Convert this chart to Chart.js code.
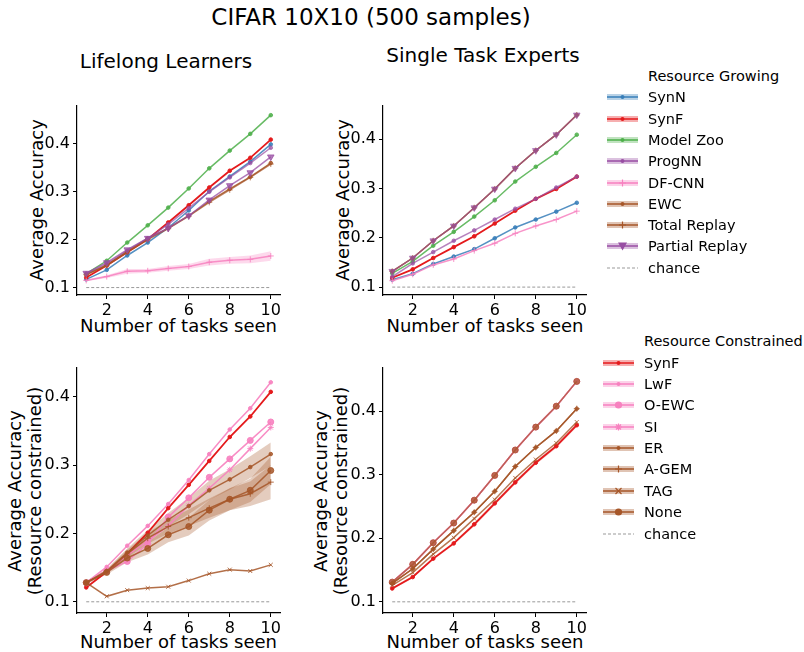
<!DOCTYPE html>
<html><head><meta charset="utf-8">
<script src="https://cdn.jsdelivr.net/npm/chart.js@4.4.0/dist/chart.umd.min.js"></script>
<style>
html,body{margin:0;padding:0;background:#fff}
body{width:804px;height:652px;position:relative;overflow:hidden;font-family:"DejaVu Sans",sans-serif;color:#000}
.t{position:absolute;white-space:nowrap;line-height:1.15}
.c{transform:translate(-50%,-50%)}
.r{transform:translate(-50%,-50%) rotate(-90deg);text-align:center}
canvas{position:absolute}
.leg{position:absolute;font-size:14.5px;white-space:nowrap}
.leg .row{position:absolute;left:0;height:20px;display:flex;align-items:center}
.leg svg{display:block;margin-right:10px}
</style></head><body>
<div class="t c" style="left:371px;top:16.5px;font-size:23px">CIFAR 10X10 (500 samples)</div>
<div class="t c" style="left:166px;top:61px;font-size:20px">Lifelong Learners</div>
<div class="t c" style="left:483px;top:54.5px;font-size:20px">Single Task Experts</div>
<div class="t r" style="left:36.5px;top:200px;font-size:18px">Average Accuracy</div>
<div class="t r" style="left:342.5px;top:200px;font-size:18px">Average Accuracy</div>
<div class="t r" style="left:24.5px;top:491px;font-size:18px;line-height:20px">Average Accuracy<br>(Resource constrained)</div>
<div class="t r" style="left:331px;top:491px;font-size:18px;line-height:20px">Average Accuracy<br>(Resource constrained)</div>
<div class="t c" style="left:178.5px;top:325.5px;font-size:18px">Number of tasks seen</div>
<div class="t c" style="left:485px;top:325.5px;font-size:18px">Number of tasks seen</div>
<div class="t c" style="left:178.5px;top:641.5px;font-size:18px">Number of tasks seen</div>
<div class="t c" style="left:485px;top:641.5px;font-size:18px">Number of tasks seen</div>
<canvas id="tl"></canvas><canvas id="tr"></canvas><canvas id="bl"></canvas><canvas id="br"></canvas>
<div class="leg" id="legTop" style="left:607px;top:0px"></div>
<div class="leg" id="legBot" style="left:603px;top:0px"></div>
<script>
// ---------- shared axis data ----------
const tasks  = [1, 2, 3, 4, 5, 6, 7, 8, 9, 10];
const xTicks = [2, 4, 6, 8, 10];
const yTicks = [0.1, 0.2, 0.3, 0.4];
const chance = [0.1, 0.1, 0.1, 0.1, 0.1, 0.1, 0.1, 0.1, 0.1, 0.1];

// ---------- Lifelong Learners (resource growing) ----------
const tlSynN     = [0.117, 0.137, 0.167, 0.194, 0.225, 0.261, 0.301, 0.332, 0.363, 0.399];
const tlSynF     = [0.121, 0.146, 0.174, 0.201, 0.236, 0.272, 0.309, 0.344, 0.371, 0.409];
const tlModelZoo = [0.129, 0.156, 0.194, 0.230, 0.267, 0.307, 0.349, 0.386, 0.421, 0.460];
const tlProgNN   = [0.129, 0.149, 0.177, 0.203, 0.232, 0.266, 0.300, 0.330, 0.360, 0.392];
const tlDFCNN    = [0.115, 0.123, 0.134, 0.135, 0.140, 0.144, 0.153, 0.157, 0.159, 0.166];
const tlDFCNNErr = [0.002, 0.003, 0.005, 0.004, 0.005, 0.005, 0.007, 0.007, 0.008, 0.010];
const tlEWC      = [0.127, 0.147, 0.175, 0.202, 0.224, 0.250, 0.280, 0.306, 0.331, 0.360];
const tlTotal    = [0.127, 0.146, 0.174, 0.200, 0.223, 0.249, 0.278, 0.304, 0.330, 0.358];
const tlPartial  = [0.130, 0.152, 0.179, 0.203, 0.224, 0.250, 0.283, 0.313, 0.340, 0.373];

// ---------- Single Task Experts (resource growing) ----------
const trSynN     = [0.115, 0.127, 0.147, 0.162, 0.177, 0.199, 0.221, 0.237, 0.253, 0.271];
const trSynF     = [0.119, 0.136, 0.159, 0.181, 0.203, 0.229, 0.255, 0.279, 0.299, 0.324];
const trModelZoo = [0.128, 0.152, 0.184, 0.212, 0.243, 0.276, 0.314, 0.344, 0.372, 0.409];
const trProgNN   = [0.121, 0.148, 0.171, 0.194, 0.215, 0.237, 0.259, 0.279, 0.302, 0.324];
const trDFCNN    = [0.113, 0.126, 0.145, 0.157, 0.174, 0.189, 0.209, 0.224, 0.237, 0.254];
const trEWC      = [0.132, 0.159, 0.194, 0.224, 0.261, 0.299, 0.341, 0.377, 0.409, 0.449];
const trTotal    = [0.132, 0.159, 0.194, 0.224, 0.261, 0.299, 0.341, 0.377, 0.409, 0.449];
const trPartial  = [0.132, 0.159, 0.194, 0.224, 0.261, 0.299, 0.341, 0.377, 0.409, 0.449];

// ---------- Lifelong Learners (resource constrained) ----------
const blSynF  = [0.121, 0.144, 0.170, 0.201, 0.237, 0.271, 0.306, 0.341, 0.371, 0.407];
const blLwF   = [0.128, 0.151, 0.182, 0.211, 0.243, 0.278, 0.316, 0.352, 0.383, 0.421];
const blOEWC  = [0.128, 0.145, 0.159, 0.185, 0.224, 0.252, 0.282, 0.309, 0.336, 0.363];
const blSI    = [0.127, 0.146, 0.168, 0.189, 0.211, 0.241, 0.266, 0.293, 0.324, 0.355];
const blER    = [0.128, 0.145, 0.172, 0.197, 0.220, 0.240, 0.263, 0.279, 0.297, 0.316];
const blERErr = [0.002, 0.003, 0.006, 0.008, 0.010, 0.012, 0.014, 0.015, 0.016, 0.017];
const blAGEM  = [0.128, 0.144, 0.170, 0.193, 0.210, 0.223, 0.237, 0.250, 0.258, 0.275];
const blAGEMErr = [0.002, 0.003, 0.006, 0.008, 0.010, 0.012, 0.014, 0.016, 0.018, 0.025];
const blTAG   = [0.128, 0.108, 0.117, 0.120, 0.122, 0.131, 0.141, 0.147, 0.145, 0.154];
const blNone  = [0.128, 0.143, 0.164, 0.178, 0.198, 0.210, 0.234, 0.250, 0.263, 0.292];
const blNoneErr = [0.002, 0.003, 0.006, 0.009, 0.011, 0.013, 0.015, 0.016, 0.017, 0.020];

// ---------- Single Task Experts (resource constrained) ----------
const brSynF  = [0.121, 0.139, 0.168, 0.192, 0.222, 0.255, 0.288, 0.319, 0.345, 0.378];
const brSynFErr = [0.002, 0.002, 0.002, 0.002, 0.003, 0.003, 0.003, 0.003, 0.003, 0.003];
const brLwF   = [0.131, 0.159, 0.193, 0.224, 0.260, 0.299, 0.339, 0.375, 0.408, 0.447];
const brOEWC  = [0.131, 0.159, 0.193, 0.224, 0.260, 0.299, 0.339, 0.375, 0.408, 0.447];
const brSI    = [0.131, 0.159, 0.193, 0.224, 0.260, 0.299, 0.339, 0.375, 0.408, 0.447];
const brER    = [0.129, 0.152, 0.183, 0.212, 0.241, 0.274, 0.313, 0.343, 0.369, 0.404];
const brAGEM  = [0.129, 0.152, 0.183, 0.212, 0.241, 0.274, 0.313, 0.343, 0.369, 0.404];
const brTAG   = [0.126, 0.146, 0.175, 0.201, 0.231, 0.261, 0.295, 0.324, 0.350, 0.383];
const brNone  = [0.131, 0.159, 0.193, 0.224, 0.260, 0.299, 0.339, 0.375, 0.408, 0.447];

// ---------- colours ----------
const BLUE='#377eb8', RED='#e41a1c', GREEN='#4daf4a', PURPLE='#984ea3', PINK='#f781bf', BROWN='#a65628';
function rgba(hex,a){const n=parseInt(hex.slice(1),16);return `rgba(${n>>16},${(n>>8)&255},${n&255},${a})`;}

function pts(ys){ return ys.map((y,i)=>({x:tasks[i], y})); }
let zc = 0;
function line(label, ys, color, st){
  st = st || {};
  zc++;
  const c = rgba(color, st.a ?? 0.85);
  return {label, data: pts(ys), borderColor: c, backgroundColor: c,
    borderWidth: st.w ?? 1.5, pointStyle: st.ps || 'circle', pointRadius: st.r ?? 1.8,
    pointRotation: st.rot || 0, pointBorderWidth: st.pbw ?? 1, pointBorderColor: c,
    pointBackgroundColor: c, fill: false, tension: 0, order: 500 - zc};
}
function band(ys, err, color, a){
  return [
    {data: pts(ys.map((y,i)=>y+err[i])), borderWidth:0, pointRadius:0, fill:'+1', backgroundColor: rgba(color, a ?? 0.3), order: 900},
    {data: pts(ys.map((y,i)=>y-err[i])), borderWidth:0, pointRadius:0, fill:false, order: 900}
  ];
}
function chanceLine(){
  return {data: pts(chance), borderColor:'#999999', borderWidth:1, borderDash:[3,2], pointRadius:0, fill:false, order: 950};
}

const font = {family:'"DejaVu Sans", sans-serif', size:16};
function panel(id, rect, yMin, yMax, datasets){
  const YW=60, PT=10, PR=22, XH=34;
  const cv = document.getElementById(id);
  const w = rect.r - rect.l + YW + PR, h = rect.b - rect.t + PT + XH;
  cv.width = w; cv.height = h;
  cv.style.left = (rect.l - YW) + 'px'; cv.style.top = (rect.t - PT) + 'px';
  cv.style.width = w + 'px'; cv.style.height = h + 'px';
  const axisCommon = {
    grid:{display:true, drawOnChartArea:false, drawTicks:true, tickLength:4, tickColor:'#000', tickWidth:1},
    border:{display:true, color:'#000', width:1.2}
  };
  new Chart(cv, {
    type:'line',
    data:{datasets},
    options:{
      responsive:false, animation:false, devicePixelRatio:1,
      layout:{padding:{top:PT, right:PR, left:0, bottom:0}},
      plugins:{legend:{display:false}, tooltip:{enabled:false}, title:{display:false}},
      scales:{
        x:{type:'linear', min:0.55, max:10.45, ...axisCommon,
           afterBuildTicks:s=>{s.ticks = xTicks.map(v=>({value:v}));},
           afterFit:s=>{s.height = XH;},
           ticks:{font, color:'#000', padding:2, maxRotation:0, autoSkip:false, callback:v=>String(v)}},
        y:{type:'linear', min:yMin, max:yMax, ...axisCommon,
           afterBuildTicks:s=>{s.ticks = yTicks.map(v=>({value:v}));},
           afterFit:s=>{s.width = YW;},
           ticks:{font, color:'#000', padding:3, autoSkip:false, callback:v=>v.toFixed(1)}}
      }
    }
  });
}

// Top-left
zc = 0;
panel('tl', {l:77, r:280, t:103, b:295}, 0.0845, 0.48, [
  ...band(tlDFCNN, tlDFCNNErr, PINK, 0.3),
  line('SynN', tlSynN, BLUE),
  line('SynF', tlSynF, RED, {w:1.8, a:1}),
  line('Model Zoo', tlModelZoo, GREEN),
  line('ProgNN', tlProgNN, PURPLE, {a:0.7}),
  line('DF-CNN', tlDFCNN, PINK, {ps:'cross', r:3}),
  line('EWC', tlEWC, BROWN),
  line('Total Replay', tlTotal, BROWN, {ps:'cross', r:3, a:0.7}),
  line('Partial Replay', tlPartial, PURPLE, {ps:'triangle', rot:180, r:3.8, a:0.75}),
  chanceLine()
]);
// Top-right
zc = 0;
panel('tr', {l:383, r:586, t:103, b:295}, 0.084, 0.468, [
  line('SynN', trSynN, BLUE),
  line('SynF', trSynF, RED, {w:1.8, a:1}),
  line('Model Zoo', trModelZoo, GREEN),
  line('ProgNN', trProgNN, PURPLE, {a:0.7}),
  line('DF-CNN', trDFCNN, PINK, {ps:'cross', r:3}),
  line('EWC', trEWC, BROWN),
  line('Total Replay', trTotal, BROWN, {ps:'cross', r:3, a:0.7}),
  line('Partial Replay', trPartial, PURPLE, {ps:'triangle', rot:180, r:3.8, a:0.6}),
  chanceLine()
]);
// Bottom-left
zc = 0;
panel('bl', {l:77, r:280, t:365, b:613}, 0.0836, 0.4425, [
  ...band(blER, blERErr, BROWN, 0.3),
  ...band(blAGEM, blAGEMErr, BROWN, 0.3),
  ...band(blNone, blNoneErr, BROWN, 0.3),
  line('SynF', blSynF, RED, {w:1.8, a:1}),
  line('LwF', blLwF, PINK, {a:0.9}),
  line('O-EWC', blOEWC, PINK, {r:3, a:0.9}),
  line('SI', blSI, PINK, {ps:'star', r:3, a:0.9}),
  line('ER', blER, BROWN),
  line('A-GEM', blAGEM, BROWN, {ps:'cross', r:3}),
  line('TAG', blTAG, BROWN, {ps:'crossRot', r:2.8}),
  line('None', blNone, BROWN, {r:3}),
  chanceLine()
]);
// Bottom-right
zc = 0;
panel('br', {l:383, r:586, t:365, b:613}, 0.0824, 0.4687, [
  ...band(brSynF, brSynFErr, RED, 0.25),
  line('SynF', brSynF, RED, {w:1.8, a:1}),
  line('LwF', brLwF, PINK, {a:0.8}),
  line('O-EWC', brOEWC, PINK, {r:3, a:0.8}),
  line('SI', brSI, PINK, {ps:'star', r:3, a:0.8}),
  line('ER', brER, BROWN),
  line('A-GEM', brAGEM, BROWN, {ps:'cross', r:3}),
  line('TAG', brTAG, BROWN, {ps:'crossRot', r:2.8, a:0.8}),
  line('None', brNone, BROWN, {r:3, a:0.7}),
  chanceLine()
]);

// ---------- legends (HTML + small SVG handles) ----------
const legTopTitle = 'Resource Growing';
const legTopItems = [
  ['SynN', BLUE, 'dot'], ['SynF', RED, 'dot'], ['Model Zoo', GREEN, 'dot'], ['ProgNN', PURPLE, 'dot'],
  ['DF-CNN', PINK, 'plus'], ['EWC', BROWN, 'dot'], ['Total Replay', BROWN, 'plus'], ['Partial Replay', PURPLE, 'tri'],
  ['chance', '#999999', 'dash']
];
const legTopY = [75.5, 97, 118.5, 140, 161, 182.5, 203.5, 225, 246, 267.5];
const legBotTitle = 'Resource Constrained';
const legBotItems = [
  ['SynF', RED, 'dot'], ['LwF', PINK, 'dot'], ['O-EWC', PINK, 'big'], ['SI', PINK, 'star'],
  ['ER', BROWN, 'dot'], ['A-GEM', BROWN, 'plus'], ['TAG', BROWN, 'x'], ['None', BROWN, 'big'],
  ['chance', '#999999', 'dash']
];
const legBotY = [341, 362.5, 384, 405, 426.5, 447.5, 469, 490.5, 512, 533.5];

function handle(color, kind){
  const W=31, H=12, m=15.5, cy=6;
  let s = `<svg width="${W}" height="${H}" viewBox="0 0 ${W} ${H}">`;
  if(kind==='dash'){
    s += `<line x1="0" y1="${cy}" x2="${W}" y2="${cy}" stroke="${color}" stroke-width="1" stroke-dasharray="3,2"/>`;
    return s + '</svg>';
  }
  s += `<rect x="0" y="${cy-3}" width="${W}" height="6" fill="${rgba(color,0.35)}"/>`;
  s += `<line x1="0" y1="${cy}" x2="${W}" y2="${cy}" stroke="${color}" stroke-width="1.5"/>`;
  if(kind==='dot') s += `<circle cx="${m}" cy="${cy}" r="2" fill="${color}"/>`;
  if(kind==='big') s += `<circle cx="${m}" cy="${cy}" r="3.6" fill="${color}"/>`;
  if(kind==='plus') s += `<path d="M${m-3.5} ${cy}H${m+3.5}M${m} ${cy-3.5}V${cy+3.5}" stroke="${color}" stroke-width="1.2"/>`;
  if(kind==='x') s += `<path d="M${m-3} ${cy-3}L${m+3} ${cy+3}M${m-3} ${cy+3}L${m+3} ${cy-3}" stroke="${color}" stroke-width="1.2"/>`;
  if(kind==='tri') s += `<path d="M${m-4.5} ${cy-3.5}L${m+4.5} ${cy-3.5}L${m} ${cy+4.5}Z" fill="${color}"/>`;
  if(kind==='star') s += `<path d="M${m-3.5} ${cy}H${m+3.5}M${m} ${cy-3.5}V${cy+3.5}M${m-2.5} ${cy-2.5}L${m+2.5} ${cy+2.5}M${m-2.5} ${cy+2.5}L${m+2.5} ${cy-2.5}" stroke="${color}" stroke-width="1.2"/>`;
  return s + '</svg>';
}
function buildLegend(id, title, items, ys, textLeft){
  const el = document.getElementById(id);
  let html = `<div class="row" style="top:${ys[0]-10}px;left:${textLeft}px">${title}</div>`;
  items.forEach((it,i)=>{
    html += `<div class="row" style="top:${ys[i+1]-10}px">${handle(it[1], it[2])}<span>${it[0]}</span></div>`;
  });
  el.innerHTML = html;
}
buildLegend('legTop', legTopTitle, legTopItems, legTopY, 41);
buildLegend('legBot', legBotTitle, legBotItems, legBotY, 41);
</script>
</body></html>
